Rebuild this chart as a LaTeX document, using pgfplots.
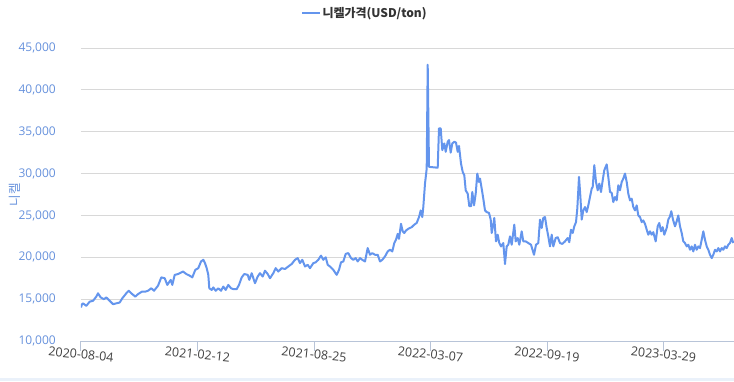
\documentclass[border=0pt]{standalone}
\usepackage{fontspec}
\setmainfont{Open Sans}
\newfontfamily\kr{Noto Sans CJK KR}
\usepackage{pgfplots}
\usepackage{pgfplotstable}
\pgfplotsset{compat=1.18}
\definecolor{linec}{RGB}{100,149,237}
\definecolor{ticklab}{RGB}{102,145,220}
\definecolor{gridc}{RGB}{216,216,216}
\definecolor{axisc}{RGB}{184,196,216}
\definecolor{legtext}{RGB}{51,51,51}
\definecolor{xlab}{RGB}{64,64,64}
\definecolor{band}{RGB}{234,241,250}
\pgfplotstableread{
x y
81 14000
82 14400
83 14500
86.3 14200
89.7 14700
93 14800
96.3 15300
98 15700
100.7 15200
104 15000
106.3 15200
109.7 14800
113 14400
116.3 14500
119.7 14600
122.3 15100
126.3 15700
128.7 16000
131.3 15700
135.3 15300
138 15600
142 15900
145.3 15900
148 16000
151.3 16300
154 16000
158 16600
161.3 17600
164.7 17500
167.3 16700
170.7 17300
172.3 16700
174.7 17900
178 18000
183 18300
186.3 18000
189.7 17800
192.3 17600
195.3 18500
198.3 18700
201 19500
203.3 19700
205 19300
206.7 18700
208.3 17900
209.3 16300
211.7 16100
213.3 16400
215.7 16000
218.3 16300
221 16000
223.3 16500
225.7 16100
228.3 16700
231 16300
233.3 16200
236.7 16200
239 16700
241.7 17600
244.3 18000
247.7 17900
249.3 17300
251.7 18100
255 16900
257.7 17700
260 18100
262.7 17700
265 18400
267.7 18000
270 17500
273.3 18100
275.7 18700
278.3 18300
281.7 18700
285 18600
288.3 18900
291.7 19200
295 19700
297.7 19900
300 19300
302.3 19700
305 18900
307.7 19100
310 18700
313.3 19300
315.7 19400
318.3 19700
321 20200
323.3 19700
325.7 20000
327.7 19100
330 18900
333.3 18500
336.7 17900
339 18500
341 19400
343.3 19500
345.7 20400
348.3 20500
351 19900
353.3 19700
355.7 19900
357.7 19500
360 19900
362.3 19700
365 19500
367.7 21100
370 20300
372.3 20500
375 20300
377.7 20300
380 19500
382.3 19700
385 20100
387.7 20700
390 20900
392.3 20700
394.3 21700
396 22100
397.7 22800
399 22200
401 24000
402.7 23100
404.3 22900
406 23200
408.3 23400
411.7 23600
414.3 23900
416.7 24100
419 24800
420.7 25600
422.3 24800
423.3 26000
425 28800
426.7 30600
427.7 43000
429 30800
437.7 30700
439 35400
440.7 35400
442.3 32800
444.3 33600
445.7 32600
447.7 33800
449 34000
450.7 32500
452.3 33600
454.3 33800
456 33700
457.7 32600
459 33300
461 31200
462.7 30200
464.3 29800
465.7 28000
467.7 27600
469.3 26100
471 26100
472.3 27800
474 26200
475.7 27600
477.3 30000
479 29000
480 29400
481.7 28200
483.3 27000
485 25600
486.7 25400
489 25300
490.7 24500
491.7 22900
493.3 23900
494.3 24700
496 21900
497.7 22700
499.3 21700
501 21300
503.3 21700
505 19200
506.7 21300
508.3 21500
510 22500
511.7 21500
514.3 23900
515.7 21900
517.7 22300
519.3 21500
521.7 23100
523.3 21900
525.7 21900
528.3 21700
531 21500
534 20300
536 21500
538.3 21700
540 24500
541.7 23500
543.3 24700
545 24800
546.7 23500
548.3 22500
550 21300
551.7 22700
553.3 21300
555.7 22300
557.7 22400
560 21700
562.3 21600
565 21900
567.7 22300
569.3 21800
571 23300
572.7 22900
574.3 23700
576 24200
577.3 25800
579 29600
580.3 27400
581.7 24500
583.3 25600
585 26000
586.7 25400
588.3 26200
590 27200
591.7 28200
592.7 28400
594.3 31000
596 29000
597.7 28000
599.3 28800
601 27800
602.7 29200
604.3 30400
606.7 31100
608.3 29600
610 27800
611.7 27700
613.3 26600
615 27200
616.7 26800
618.3 28600
620 28000
621.7 29000
623.3 29400
625 30000
626.7 29000
628.3 27600
630 26800
631.7 27000
633.3 26000
635 25600
636.7 26200
638.3 25000
640 24800
641.7 24200
643.3 24400
645 24000
646.7 23300
648.3 22700
650 23100
651.7 22700
653.3 23000
655.7 21900
657.7 23700
659.3 24100
661 23100
662.7 23600
664.3 22700
666.7 23500
668.3 24500
670 24900
671.3 25500
673 24500
675 23700
676.7 24300
678.3 25000
680 23700
681.7 22900
683.3 21900
685 21700
686.7 21300
688.3 21500
690 20900
691.7 21300
693.3 20700
695 21500
696.7 20900
698.3 21300
700 21100
701.7 22100
703.3 23100
705 22100
706.7 21300
708.3 20900
710 20300
711.7 19900
713.3 20300
715 20900
716.7 20700
718.3 21100
720 20700
721.7 21100
723.3 20900
725 21300
726.7 21100
728.3 21500
730 21700
731.7 22300
733.3 21700
}\nickel
\begin{document}
\begin{tikzpicture}[x=1pt,y=1pt]
\path[use as bounding box] (-81,-40) rectangle (653,341);
\fill[band] (-81,-40) rectangle (653,-37);
\begin{axis}[
  at={(0,0)}, anchor=south west,
  scale only axis, width=653pt, height=293pt,
  xmin=81, xmax=734, ymin=10000, ymax=45000,
  xtick={81,197.5,314,430.5,547,663.5},
  xticklabels={2020-08-04,2021-02-12,2021-08-25,2022-03-07,2022-09-19,2023-03-29},
  ytick={10000,15000,20000,25000,30000,35000,40000,45000},
  scaled y ticks=false,
  /pgf/number format/fixed,
  /pgf/number format/precision=0,
  /pgf/number format/1000 sep={,},
  /pgf/number format/assume math mode=true,
  ymajorgrids, grid style={gridc, line width=0.8pt},
  axis x line=bottom, axis y line=left,
  axis line style={-},
  x axis line style={draw=axisc, line width=1pt},
  y axis line style={draw=none},
  tick align=outside, major tick length=10pt,
  xtick style={draw=axisc, line width=1pt},
  ytick style={draw=none},
  yticklabel style={font=\fontsize{12}{14}\selectfont, text=ticklab, anchor=east, inner sep=0pt, xshift=-15pt},
  xticklabel style={font=\fontsize{12.5}{14}\selectfont, text=xlab, yshift=-3.5pt, rotate=-6, anchor=center, inner sep=0pt},
  ylabel={\kr 니켈},
  ylabel style={at={(axis description cs:-0.10107,0.5)}, anchor=center, text=ticklab, font=\fontsize{12.5}{14}\selectfont},
  legend style={at={(axis description cs:0.435,1.12)}, anchor=center, draw=none, fill=none, font=\kr\bfseries\fontsize{12}{14}\selectfont, text=legtext},
  clip=true,
]
\addplot[linec, line width=2pt, line join=round] table[x=x,y=y] {\nickel};
\addlegendentry{니켈가격(USD/ton)}
\end{axis}
\end{tikzpicture}
\end{document}
